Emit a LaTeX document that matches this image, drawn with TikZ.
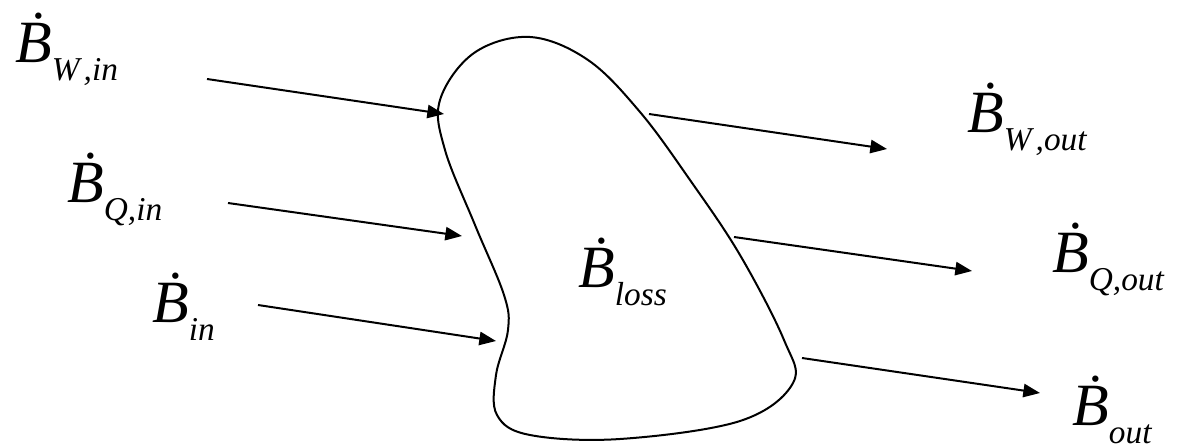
\documentclass[tikz,border=0pt]{standalone}
\usepackage{fontspec}
\setmainfont{Liberation Serif}
\usetikzlibrary{arrows.meta}
\newcommand\flowlab[1]{\textit{\.{B}}\raisebox{-13.5pt}{\fontsize{25}{26}\selectfont\textit{#1}}}
\tikzset{
  lab/.style={anchor=base west,inner sep=0pt,font=\fontsize{45}{48}\selectfont},
  flow/.style={line width=1.5pt,-{Triangle[length=12.5pt,width=10pt]}},
  blob/.style={line width=1.5pt}
}
\begin{document}
\begin{tikzpicture}[x=0.75pt,y=-0.75pt]
\useasboundingbox (0,0) rectangle (1179,446);
% labels
\node[lab] (bwin) at (15,62) {\flowlab{W\hspace{3pt},in}};
\node[lab] (bqin) at (67,202) {\flowlab{Q,in}};
\node[lab] (bin) at (152,322) {\flowlab{in}};
\node[lab] (bwout) at (967,132) {\flowlab{W\hspace{3pt},out}};
\node[lab] (bqout) at (1052,272) {\flowlab{Q,out}};
\node[lab] (bout) at (1072,425) {\flowlab{out}};
\node[lab] (bloss) at (578,287) {\flowlab{loss}};
% blob
\draw[blob] plot[smooth cycle, tension=0.6] coordinates {
 (530,37) (474,53) (440,100) (445,150) (475,225) (504,295) (508,330)
 (496,375) (497,415) (530,435) (620,439) (740,421) (793,383) (784,340)
 (740,255) (690,180) (640,112) (588,60)};
% connector endpoints
\coordinate (a1) at (207,79);  \coordinate (a1e) at (444,114);
\coordinate (a2) at (228,203); \coordinate (a2e) at (462,236);
\coordinate (a3) at (258,305); \coordinate (a3e) at (496,341);
\coordinate (o1) at (649,114); \coordinate (o1e) at (887,149);
\coordinate (o2) at (734,237); \coordinate (o2e) at (972,271);
\coordinate (o3) at (802,358); \coordinate (o3e) at (1040,393);
\draw[flow] (a1) -- (a1e);
\draw[flow] (a2) -- (a2e);
\draw[flow] (a3) -- (a3e);
\draw[flow] (o1) -- (o1e);
\draw[flow] (o2) -- (o2e);
\draw[flow] (o3) -- (o3e);
\end{tikzpicture}
\end{document}
